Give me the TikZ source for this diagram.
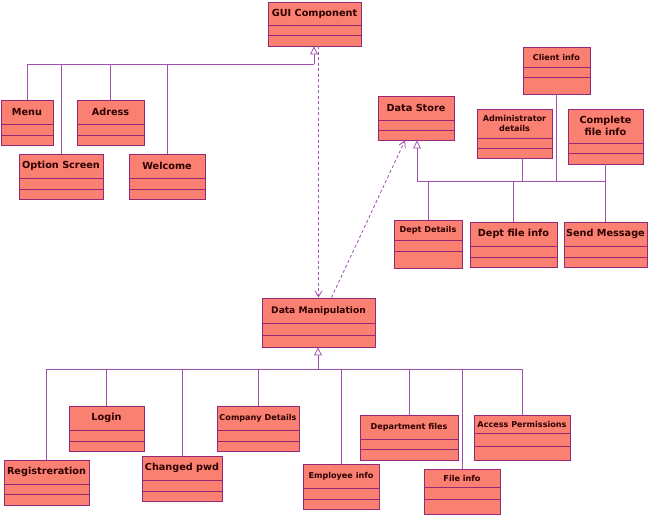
\documentclass[tikz,border=0pt]{standalone}
\usepackage{fontspec}
\setmainfont{DejaVu Sans}
\usetikzlibrary{arrows.meta,fit,calc}
\definecolor{boxfill}{RGB}{250,128,114}
\definecolor{boxedge}{RGB}{150,40,120}
\definecolor{linkcol}{RGB}{160,80,175}
\definecolor{txtcol}{RGB}{45,0,0}
\newcommand{\BigF}{\fontsize{9.7}{11.5}\selectfont\bfseries}
\newcommand{\MidF}{\fontsize{9.1}{11}\selectfont\bfseries}
\newcommand{\SmF}{\fontsize{8.1}{10}\selectfont\bfseries}
\tikzset{
  clsbox/.style={draw=boxedge, fill=boxfill, line width=0.9pt, inner sep=0pt},
  clsline/.style={draw=boxedge, line width=0.9pt},
  clstext/.style={text=txtcol, align=center, inner sep=0pt},
  link/.style={draw=linkcol, line width=0.8pt},
  gen/.style={-{Triangle[open, length=8pt, width=8pt, fill=white]}},
  dep/.style={draw=linkcol, line width=0.8pt, dash pattern=on 3pt off 2.5pt,
    -{Straight Barb[length=6pt, width=7pt]}},
}
\newcommand{\umlcls}[9]{%
  \node[clsbox, fit={(#2,#3) (#4,#5)}] (#1) {};
  \draw[clsline] (#2,#6) -- (#4,#6);
  \draw[clsline] (#2,#7) -- (#4,#7);
  \node[clstext, font=#8] (#1-t) at ({(#2+#4)/2},{(#3+#6)/2}) {#9};
}
\begin{document}
\begin{tikzpicture}[x=1pt, y=-1pt]
\useasboundingbox[fill=white] (0,0) rectangle (648,515);

% top-left group
\umlcls{gui}{268}{2}{361}{46}{25}{35}{\BigF}{GUI Component}
\umlcls{menu}{1}{100}{53}{145}{124}{135}{\BigF}{Menu}
\umlcls{opt}{19}{154}{103}{199}{178}{189}{\BigF}{Option Screen}
\umlcls{adr}{77}{100}{144}{145}{124}{135}{\BigF}{Adress}
\umlcls{wel}{129}{154}{205}{199}{178}{189}{\BigF}{Welcome}

% right group
\umlcls{ds}{378}{96}{454}{140}{120}{130}{\BigF}{Data Store}
\umlcls{cli}{523}{47}{590}{94}{67}{77}{\SmF}{Client info}
\umlcls{adm}{477}{109}{552}{158}{138}{148}{\SmF}{Administrator\\details}
\umlcls{cfi}{568}{109}{643}{164}{143}{153}{\BigF}{Complete\\file info}
\umlcls{dd}{394}{220}{462}{268}{240}{251}{\SmF}{Dept Details}
\umlcls{dfi}{470}{222}{557}{267}{246}{257}{\BigF}{Dept file info}
\umlcls{sm}{564}{222}{647}{267}{246}{257}{\BigF}{Send Message}

% bottom group
\umlcls{dm}{262}{298}{375}{347}{323}{335}{\MidF}{Data Manipulation}
\umlcls{reg}{4}{460}{89}{505}{484}{494}{\BigF}{Registreration}
\umlcls{log}{69}{406}{144}{451}{430}{441}{\BigF}{Login}
\umlcls{chp}{142}{456}{222}{501}{480}{491}{\BigF}{Changed pwd}
\umlcls{cd}{217}{406}{299}{451}{430}{441}{\SmF}{Company Details}
\umlcls{emp}{303}{464}{379}{509}{488}{499}{\SmF}{Employee info}
\umlcls{df}{360}{415}{458}{460}{439}{449}{\SmF}{Department files}
\umlcls{fi}{424}{469}{500}{514}{487}{499}{\SmF}{File info}
\umlcls{ap}{474}{415}{570}{460}{433}{446}{\SmF}{Access Permissions}

% GUI generalization
\coordinate (gj) at (314,64);
\draw[link, gen] (gj) -- (gj |- gui.south);
\draw[link] (menu.north) |- (gj);
\draw[link] (opt.north) -- (opt.north |- gj);
\draw[link] (adr.north) -- (adr.north |- gj);
\draw[link] (wel.north) -- (wel.north |- gj);

% Data Store generalization
\coordinate (sj) at (417,181);
\draw[link, gen] (sj) -- (sj |- ds.south);
\draw[link] (sj) -| (sm.north);
\draw[link] (cfi.south) -- (cfi.south |- sj);
\draw[link] (cli.south) -- (cli.south |- sj);
\coordinate (admx) at ($(adm.south)+(7.5,0)$);
\draw[link] (admx) -- (admx |- sj);
\draw[link] (dd.north) -- (dd.north |- sj);
\draw[link] (dfi.north) -- (dfi.north |- sj);

% Data Manipulation generalization
\coordinate (dj) at (318,369);
\draw[link, gen] (dj) -- (dj |- dm.south);
\draw[link] (reg.north) |- (dj);
\draw[link] (dj) -| (ap.north);
\draw[link] (log.north) -- (log.north |- dj);
\draw[link] (chp.north) -- (chp.north |- dj);
\draw[link] (cd.north) -- (cd.north |- dj);
\draw[link] (emp.north) -- (emp.north |- dj);
\draw[link] (df.north) -- (df.north |- dj);
\draw[link] (fi.north) -- (fi.north |- dj);

% dependencies
\coordinate (guid) at ($(gui.south)+(4,0)$);
\draw[dep] (guid) -- (dm.north);
\coordinate (dmd) at ($(dm.north)+(13,0)$);
\coordinate (dsd) at ($(ds.south)+(-11,0)$);
\draw[dep] (dmd) -- (dsd);
\end{tikzpicture}
\end{document}
